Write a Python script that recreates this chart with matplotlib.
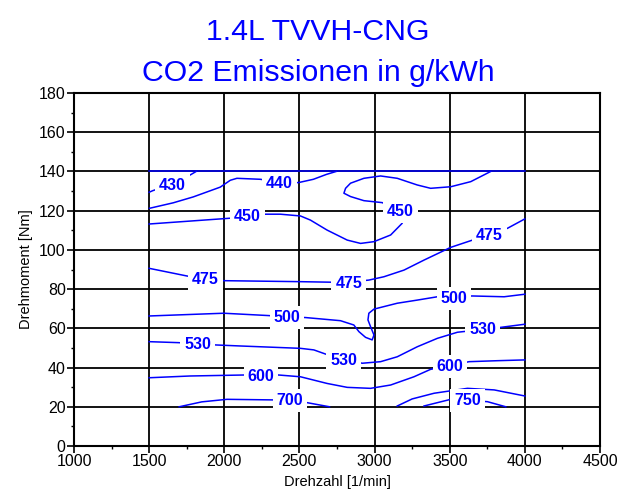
import matplotlib
matplotlib.use("Agg")
import matplotlib.pyplot as plt
from matplotlib.ticker import MultipleLocator

plt.rcParams["font.family"] = ["Liberation Sans", "DejaVu Sans"]

BLUE = "#0000ff"

# Engine speed [1/min] and torque [Nm] points of each iso-CO2 line
full_load_x = [1500, 4000]
full_load_y = [140, 140]

co2_430_x = [1500, 1524, 1653, 1773, 1813]
co2_430_y = [129.4, 130.2, 133.5, 138.2, 140.0]

co2_440_x = [1502, 1660, 1793, 1973, 2040, 2084, 2240, 2367, 2493, 2593, 2680, 2745]
co2_440_y = [121.2, 124.0, 127.0, 132.0, 135.5, 136.5, 136.0, 134.5, 134.3, 136.0, 138.5, 140.0]

co2_450_x = [1500, 2029, 2153, 2273, 2373, 2507, 2573, 2684, 2818, 2907, 2996, 3107,
             3184, 3173, 3051, 2929, 2840, 2796, 2807, 2840, 2929, 3040, 3151, 3284,
             3373, 3507, 3640, 3773]
co2_450_y = [113.2, 116.1, 116.8, 118.2, 118.2, 117.3, 115.2, 110.1, 105.0, 103.3, 104.2, 107.6,
             113.6, 119.5, 124.1, 125.1, 127.2, 128.9, 131.4, 134.0, 136.5, 137.7, 136.5, 133.1,
             131.4, 132.2, 134.8, 140.0]

co2_475_x = [1500, 1751, 1873, 1996, 2500, 2729, 2829, 2962, 3062, 3196, 3329, 3507,
             3640, 3762, 3884, 4000]
co2_475_y = [90.6, 86.7, 85.0, 84.3, 83.8, 83.5, 83.6, 84.6, 86.3, 89.7, 94.8, 101.3,
             104.7, 107.8, 111.0, 115.8]

co2_500_x = [1500, 1996, 2296, 2418, 2540, 2773, 2862, 2896, 2940, 2984, 2996, 2973,
             2956, 2962, 2996, 3151, 3284, 3418, 3529, 3651, 3862, 4000]
co2_500_y = [66.3, 67.7, 66.5, 65.8, 65.5, 63.9, 61.7, 58.3, 55.4, 54.1, 56.6, 60.9,
             64.3, 67.7, 69.8, 72.8, 74.4, 76.1, 76.3, 76.5, 76.1, 77.4]

co2_530_x = [1500, 1696, 1822, 1951, 2107, 2507, 2596, 2673, 2796, 2918, 3040, 3151,
             3284, 3418, 3551, 3718, 3840, 4000]
co2_530_y = [53.2, 52.7, 52.0, 51.5, 51.0, 49.8, 49.0, 46.9, 44.2, 42.2, 43.0, 45.5,
             50.6, 54.9, 58.0, 59.4, 60.5, 62.1]

co2_600_x = [1500, 1773, 2129, 2244, 2362, 2507, 2684, 2818, 2973, 3107, 3262, 3373,
             3502, 3629, 3818, 4000]
co2_600_y = [34.8, 35.7, 36.2, 36.0, 36.2, 35.3, 31.9, 29.9, 29.4, 31.1, 35.3, 39.1,
             41.0, 43.0, 43.5, 43.9]

co2_700_x = [1700, 1850, 2018, 2327, 2440, 2551, 2700]
co2_700_y = [20.0, 22.5, 23.8, 23.5, 23.1, 22.1, 20.0]

co2_700r_x = [3151, 3250, 3396, 3618, 3796, 4000]
co2_700r_y = [20.4, 24.0, 26.9, 29.4, 28.6, 25.5]

co2_750_x = [3329, 3507, 3618, 3751, 3873]
co2_750_y = [20.4, 23.8, 23.3, 22.6, 20.0]

# Contour labels: level and where it sits on its line
label_level = [430, 440, 450, 450, 475, 475, 475, 500, 500, 530, 530, 530, 600, 600, 700, 750]
label_x = [1653, 2367, 2153, 3173, 1873, 2829, 3762, 2418, 3529, 1822, 2796, 3718, 2244, 3502, 2436, 3618]
label_y = [132.6, 134.1, 116.8, 119.5, 84.7, 82.9, 107.1, 65.4, 75.3, 52.0, 43.5, 59.5, 35.3, 40.4, 23.1, 23.1]

x_ticks = [1000, 1500, 2000, 2500, 3000, 3500, 4000, 4500]
y_ticks = [0, 20, 40, 60, 80, 100, 120, 140, 160, 180]

fig = plt.figure(figsize=(6.24, 4.91), dpi=100)
ax = fig.add_axes([74 / 624, 1 - 446 / 491, 526 / 624, 353 / 491])

ax.set_xlim(1000, 4500)
ax.set_ylim(0, 180)
ax.set_xticks(x_ticks)
ax.set_yticks(y_ticks)
ax.xaxis.set_minor_locator(MultipleLocator(250))
ax.yaxis.set_minor_locator(MultipleLocator(10))
ax.tick_params(which="major", direction="out", length=5, width=1.2, labelsize=11.5, pad=1)
ax.tick_params(which="minor", direction="out", length=2.5, width=1.0)
ax.grid(True, which="major", color="black", linewidth=1.3, zorder=1)
ax.set_axisbelow(True)
for s in ax.spines.values():
    s.set_linewidth(1.5)

lines = [
    (full_load_x, full_load_y), (co2_430_x, co2_430_y), (co2_440_x, co2_440_y),
    (co2_450_x, co2_450_y), (co2_475_x, co2_475_y), (co2_500_x, co2_500_y),
    (co2_530_x, co2_530_y), (co2_600_x, co2_600_y), (co2_700_x, co2_700_y),
    (co2_700r_x, co2_700r_y), (co2_750_x, co2_750_y),
]
for xs, ys in lines:
    ax.plot(xs, ys, color=BLUE, linewidth=1.1, zorder=3, solid_joinstyle="round")

for lev, lx, ly in zip(label_level, label_x, label_y):
    ax.text(lx, ly, f"{lev}", color=BLUE, fontsize=11.5, fontweight="bold",
            ha="center", va="center", zorder=5,
            bbox=dict(boxstyle="square,pad=0.25", facecolor="white", edgecolor="none"))

ax.set_xlabel("Drehzahl [1/min]", fontsize=10.5)
ax.xaxis.set_label_coords(0.5, -0.083)
ax.set_ylabel("Drehmoment [Nm]", fontsize=10.5, labelpad=4)

fig.text(0.51, 1 - 40 / 491, "1.4L TVVH-CNG", color=BLUE, fontsize=21.8,
         ha="center", va="baseline")
fig.text(0.51, 1 - 81 / 491, "CO2 Emissionen in g/kWh", color=BLUE, fontsize=21.8,
         ha="center", va="baseline")

fig.savefig("out.png", dpi=100)
